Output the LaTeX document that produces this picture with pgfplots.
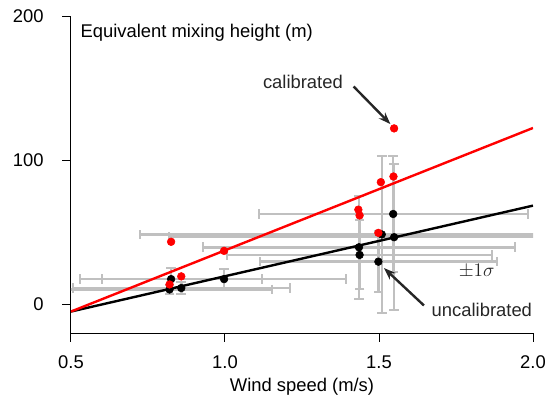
\documentclass[border=0pt]{standalone}
\usepackage{fontspec}
\setmainfont{Liberation Sans}
\usepackage{pgfplots}
\usepackage{pgfplotstable}
\pgfplotsset{compat=1.18}
\usetikzlibrary{arrows.meta}
\definecolor{errgray}{RGB}{192,192,192}
\definecolor{annot}{RGB}{38,38,38}

% uncalibrated estimates with 1-sigma errors
\pgfplotstableread{
x     y     ex    ey
1.546 62.6  0.437 40.2
1.549 46.5  0.730 50.5
1.509 48.4  0.784 54.4
1.435 39.5  0.506 35.8
1.437 34.2  0.430 24.0
1.498 29.5  0.385 21.0
0.825 17.4  0.295 7.5
0.997 17.4  0.397 7.0
0.858 11.2  0.352 4.0
0.820 10.2  0.331 3.0
}\uncal

% calibrated estimates
\pgfplotstableread{
x     y
1.549 122.0
1.547 88.6
1.506 84.7
1.433 65.6
1.437 61.6
1.498 49.5
0.825 43.3
0.997 37.0
0.858 19.3
0.820 13.7
}\cal

\begin{document}
\begin{tikzpicture}
\begin{axis}[
    scale only axis,
    width=346.5pt, height=237.75pt,
    xmin=0.5, xmax=2.0, ymin=-20, ymax=200,
    axis lines=left,
    axis line style={-, line width=0.75pt},
    tick align=outside,
    major tick length=6.5pt,
    tick style={black, line width=0.75pt},
    xtick={0.5,1.0,1.5,2.0},
    ytick={0,100,200},
    font=\fontsize{13.8}{16}\selectfont,
    /pgf/number format/assume math mode=true,
    xticklabel style={/pgf/number format/fixed, /pgf/number format/fixed zerofill,
        /pgf/number format/precision=1, yshift=-7pt},
    yticklabel style={xshift=-10.5pt},
    xlabel={Wind speed (m/s)},
    xlabel style={at={(axis description cs:0.5,0)}, anchor=center, yshift=-40.5pt},
]
% error bars
\addplot[errgray, line width=1.9pt, only marks, mark=*, mark size=0pt, forget plot,
    error bars/.cd, x dir=both, x explicit, y dir=both, y explicit,
    error bar style={draw=errgray, line width=1.9pt},
    error mark=-,
    error mark options={draw=errgray, line width=1.5pt, mark size=3.6pt, rotate=90}]
    table[x=x, y=y, x error=ex, y error=ey] {\uncal};

% fitted lines
\addplot[black, line width=1.8pt] coordinates {(0.5,-5.1) (2.0,68.4)};
\addplot[red, line width=1.8pt] coordinates {(0.5,-5.1) (2.0,122.3)};

% points
\addplot[only marks, mark=*, mark size=2.9pt, black] table[x=x, y=y] {\uncal};
\addplot[only marks, mark=*, mark size=2.9pt, red] table[x=x, y=y] {\cal};

% annotations
\node[anchor=west] at (axis cs:0.516,188.5) {Equivalent mixing height (m)};
\node[text=annot] at (axis cs:1.253,154.2) {calibrated};
\draw[annot, line width=1.8pt, -{Stealth[length=9pt, width=6.5pt]}]
    (axis cs:1.4175,151.1) -- (axis cs:1.537,125);
\node[text=annot] at (axis cs:1.834,-4.0) {uncalibrated};
\draw[annot, line width=1.8pt, -{Stealth[length=9pt, width=6.5pt]}]
    (axis cs:1.646,-0.9) -- (axis cs:1.516,25.1);
\node[text=annot] at (axis cs:1.817,23) {$\pm 1\sigma$};
\end{axis}
\pgfresetboundingbox
\path[use as bounding box] (current axis.south west) ++(-53.25pt,-51pt) rectangle ++(412.5pt,300.75pt);
\end{tikzpicture}
\end{document}
